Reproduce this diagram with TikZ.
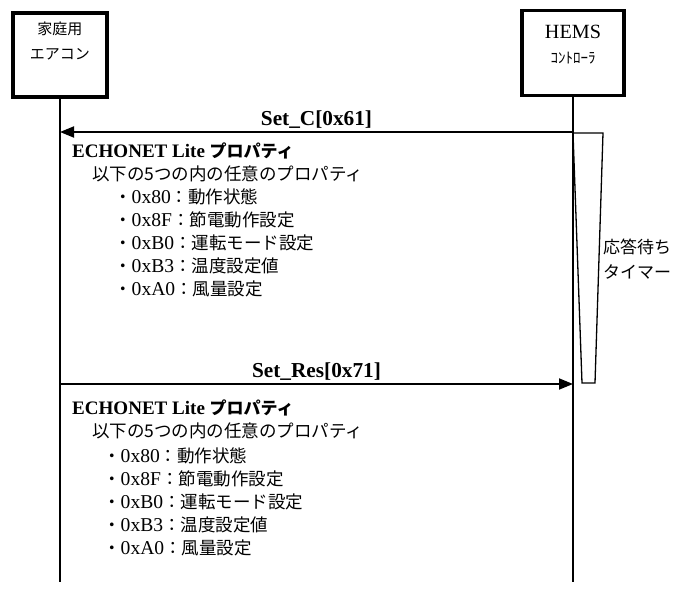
\documentclass[tikz,border=0pt]{standalone}
\usepackage{fontspec}
\setmainfont{Liberation Serif}[Scale=1.12]
\newfontfamily\jp{Noto Sans CJK JP}
\usetikzlibrary{arrows.meta}
\newcommand\propline[2]{{\jp ・}#1{\jp ：#2}}
\tikzset{
  actor/.style={draw,line width=3.2pt,minimum width=94pt,minimum height=84pt,inner sep=0pt},
  actorname/.style={anchor=north,align=center,inner sep=0pt,font=\fontsize{15}{25}\selectfont},
  lifeline/.style={line width=1.6pt},
  msg/.style={line width=1.8pt,-{Triangle[length=14pt,width=11pt]}},
  msglabel/.style={above,inner sep=3pt,font=\fontsize{19}{20}\selectfont\bfseries},
  txt/.style={anchor=west,inner sep=0pt,font=\fontsize{17.5}{20}\selectfont},
  head/.style={txt,font=\fontsize{17}{20}\selectfont\bfseries},
  timer/.style={line width=1.3pt,line join=miter},
}
\begin{document}
\begin{tikzpicture}[x=1pt,y=-1pt]
      \useasboundingbox (0,0) rectangle (678,594);
      % actors
      \node[actor] (aircon) at (60,55) {};
      \node[actorname] (aircon name) at (60,22) {{\jp 家庭用}\\{\jp エアコン}};
      \node[actor,minimum width=102pt,minimum height=85pt] (hems) at (573,53) {};
      \node[actorname] (hems name) at (573,25)
        {{\fontsize{18}{25}\selectfont HEMS}\\{\jp ｺﾝﾄﾛｰﾗ}};
      \coordinate (aircon end) at (60,582);
      \coordinate (hems end) at (573,582);
      \draw[lifeline] (aircon) -- (aircon end);
      \draw[lifeline] (hems) -- (hems end);
      % messages
      \coordinate (set c from) at (573,132);
      \coordinate (set c to) at (60,132);
      \coordinate (set res from) at (60,384);
      \coordinate (set res to) at (573,384);
      \draw[msg] (set c from) -- node[msglabel] (set c) {Set\_C[0x61]} (set c to);
      \draw[msg] (set res from) -- node[msglabel] (set res) {Set\_Res[0x71]} (set res to);
      % timer
      \draw[timer] (573,133) -- (603,133) -- (595,383) -- (582,383) -- cycle;
      \node[anchor=west,align=left,inner sep=0pt,font=\fontsize{17}{25}\selectfont]
        (timer) at (603,259) {{\jp 応答待ち}\\{\jp タイマー}};
      % Set_C properties
      \node[head] (c head) at (72,151) {ECHONET Lite {\jp プロパティ}};
      \node[txt] (c sub) at (92,174) {\jp 以下の5つの内の任意のプロパティ};
      \node[txt] (c p1) at (114,197) {\propline{0x80}{動作状態}};
      \node[txt] (c p2) at (114,220) {\propline{0x8F}{節電動作設定}};
      \node[txt] (c p3) at (114,243) {\propline{0xB0}{運転モード設定}};
      \node[txt] (c p4) at (114,266) {\propline{0xB3}{温度設定値}};
      \node[txt] (c p5) at (114,289) {\propline{0xA0}{風量設定}};
      % Set_Res properties
      \node[head] (r head) at (72,408) {ECHONET Lite {\jp プロパティ}};
      \node[txt] (r sub) at (92,431) {\jp 以下の5つの内の任意のプロパティ};
      \node[txt] (r p1) at (103,456) {\propline{0x80}{動作状態}};
      \node[txt] (r p2) at (103,479) {\propline{0x8F}{節電動作設定}};
      \node[txt] (r p3) at (103,502) {\propline{0xB0}{運転モード設定}};
      \node[txt] (r p4) at (103,525) {\propline{0xB3}{温度設定値}};
      \node[txt] (r p5) at (103,548) {\propline{0xA0}{風量設定}};
    \end{tikzpicture}
\end{document}
